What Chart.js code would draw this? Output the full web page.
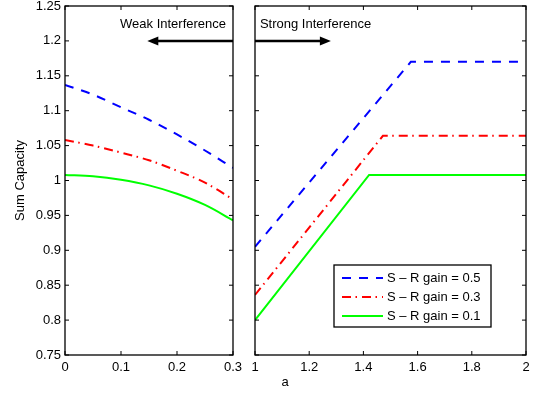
<!DOCTYPE html>
<html>
<head>
<meta charset="utf-8">
<script src="https://cdn.jsdelivr.net/npm/chart.js@4"></script>
<style>
  body { margin: 0; background: #fff; }
  #wrap { position: relative; width: 534px; height: 394px; }
  canvas { position: absolute; top: 0; }
  #weak { left: 0; }
  #strong { left: 244px; }
</style>
</head>
<body>
<div id="wrap">
  <canvas id="weak" width="244" height="394"></canvas>
  <canvas id="strong" width="290" height="394"></canvas>
</div>
<script>
// weak interference part (a from 0 to 0.3)
const weakA = [0, 0.05, 0.1, 0.15, 0.2, 0.25, 0.3];
const weakGain05 = [1.137, 1.123, 1.105, 1.087, 1.066, 1.043, 1.018];
const weakGain03 = [1.058, 1.050, 1.040, 1.029, 1.014, 0.997, 0.973];
const weakGain01 = [1.008, 1.006, 1.001, 0.993, 0.981, 0.965, 0.943];

// strong interference part (a from 1 to 2)
const strongA05 = [1, 1.575, 2];
const strongGain05 = [0.905, 1.170, 1.170];
const strongA03 = [1, 1.472, 2];
const strongGain03 = [0.836, 1.064, 1.064];
const strongA01 = [1, 1.421, 2];
const strongGain01 = [0.800, 1.008, 1.008];

const seriesLabels = ['S \u2013 R gain = 0.5', 'S \u2013 R gain = 0.3', 'S \u2013 R gain = 0.1'];

Chart.defaults.font.family = '"Liberation Sans", Arial, sans-serif';
Chart.defaults.font.size = 13;
Chart.defaults.color = '#000';

const styles = [
  { borderColor: '#0000ff', borderDash: [9, 8] },
  { borderColor: '#ff0000', borderDash: [9, 4.5, 1.5, 5] },
  { borderColor: '#00ff00', borderDash: [] }
];

function points(xs, ys) {
  return xs.map((x, i) => ({ x: x, y: ys[i] }));
}

function makeSets(list, smooth) {
  return list.map((d, i) => ({
    label: seriesLabels[i],
    data: d,
    borderColor: styles[i].borderColor,
    borderDash: styles[i].borderDash,
    borderWidth: 2,
    pointRadius: 0,
    fill: false,
    tension: 0,
    cubicInterpolationMode: smooth ? 'monotone' : 'default'
  }));
}

// matlab style box with inward ticks
const boxTicks = {
  id: 'boxTicks',
  afterDatasetsDraw(chart) {
    const ctx = chart.ctx;
    const a = chart.chartArea;
    const x = chart.scales.x, y = chart.scales.y;
    ctx.save();
    ctx.strokeStyle = '#000';
    ctx.lineWidth = 1;
    ctx.beginPath();
    x.ticks.forEach(t => {
      const p = x.getPixelForValue(t.value);
      ctx.moveTo(p, a.bottom); ctx.lineTo(p, a.bottom - 4);
      ctx.moveTo(p, a.top); ctx.lineTo(p, a.top + 4);
    });
    y.ticks.forEach(t => {
      const p = y.getPixelForValue(t.value);
      ctx.moveTo(a.left, p); ctx.lineTo(a.left + 4, p);
      ctx.moveTo(a.right, p); ctx.lineTo(a.right - 4, p);
    });
    ctx.stroke();
    ctx.lineWidth = 1.3;
    ctx.strokeRect(a.left, a.top, a.right - a.left, a.bottom - a.top);
    ctx.restore();
  }
};

// text + arrow note, given in data units
const arrowNote = {
  id: 'arrowNote',
  afterDatasetsDraw(chart, args, opts) {
    if (!opts.text) return;
    const ctx = chart.ctx;
    const x = chart.scales.x, y = chart.scales.y;
    ctx.save();
    ctx.fillStyle = '#000';
    ctx.strokeStyle = '#000';
    ctx.font = '13px "Liberation Sans", Arial, sans-serif';
    ctx.textAlign = opts.align;
    ctx.textBaseline = 'middle';
    ctx.fillText(opts.text, x.getPixelForValue(opts.textX), y.getPixelForValue(opts.textY));
    const x0 = x.getPixelForValue(opts.from), x1 = x.getPixelForValue(opts.to);
    const py = y.getPixelForValue(opts.y);
    const dir = x1 > x0 ? 1 : -1;
    ctx.lineWidth = 2.5;
    ctx.beginPath();
    ctx.moveTo(x0, py);
    ctx.lineTo(x1 - dir * 9, py);
    ctx.stroke();
    ctx.beginPath();
    ctx.moveTo(x1, py);
    ctx.lineTo(x1 - dir * 11, py - 4.5);
    ctx.lineTo(x1 - dir * 11, py + 4.5);
    ctx.closePath();
    ctx.fill();
    ctx.restore();
  }
};

// legend box drawn inside the plot area
const boxLegend = {
  id: 'boxLegend',
  afterDatasetsDraw(chart) {
    const ctx = chart.ctx;
    const a = chart.chartArea;
    const w = 157, h = 62;
    const left = a.right - 35 - w, top = a.bottom - 28 - h;
    ctx.save();
    ctx.fillStyle = '#fff';
    ctx.fillRect(left, top, w, h);
    ctx.strokeStyle = '#000';
    ctx.lineWidth = 1.3;
    ctx.strokeRect(left, top, w, h);
    ctx.font = '13px "Liberation Sans", Arial, sans-serif';
    ctx.textBaseline = 'middle';
    ctx.textAlign = 'left';
    chart.data.datasets.forEach((ds, i) => {
      const ry = top + 13 + i * 19;
      ctx.strokeStyle = ds.borderColor;
      ctx.lineWidth = 2;
      ctx.setLineDash(ds.borderDash);
      ctx.beginPath();
      ctx.moveTo(left + 8, ry);
      ctx.lineTo(left + 49, ry);
      ctx.stroke();
      ctx.setLineDash([]);
      ctx.fillStyle = '#000';
      ctx.fillText(ds.label, left + 53, ry);
    });
    ctx.restore();
  }
};

// x label "a" under the axes
const xName = {
  id: 'xName',
  afterDraw(chart) {
    const ctx = chart.ctx;
    ctx.save();
    ctx.fillStyle = '#000';
    ctx.font = '13px "Liberation Sans", Arial, sans-serif';
    ctx.textAlign = 'center';
    ctx.textBaseline = 'middle';
    ctx.fillText('a', chart.chartArea.left + 30, 382);
    ctx.restore();
  }
};

const fmt = d => v => String(+v.toFixed(d));

// fixed axis sizes, no extra room for overhanging labels
const fitX = s => { s.height = 39; s.paddingLeft = 0; s.paddingRight = 0; };
const fitY = w => s => { s.width = w; s.paddingTop = 0; s.paddingBottom = 0; };

new Chart(document.getElementById('weak'), {
  type: 'line',
  data: {
    datasets: makeSets([
      points(weakA, weakGain05),
      points(weakA, weakGain03),
      points(weakA, weakGain01)
    ], true)
  },
  options: {
    responsive: false,
    animation: false,
    layout: { padding: { top: 6, right: 11, left: 0, bottom: 0 } },
    plugins: {
      legend: { display: false },
      tooltip: { enabled: false },
      arrowNote: { text: 'Weak Interference', align: 'right', textX: 0.2875, textY: 1.224, from: 0.3, to: 0.147, y: 1.2 }
    },
    scales: {
      x: {
        type: 'linear', min: 0, max: 0.3,
        ticks: { stepSize: 0.1, callback: fmt(1), padding: 5, maxRotation: 0 },
        grid: { display: false, drawTicks: false, tickLength: 0 },
        border: { display: false },
        afterFit: fitX
      },
      y: {
        min: 0.75, max: 1.25,
        ticks: { stepSize: 0.05, callback: fmt(2), padding: 4 },
        grid: { display: false, drawTicks: false, tickLength: 0 },
        border: { display: false },
        title: { display: true, text: 'Sum Capacity', padding: { top: 13, bottom: 0 } },
        afterFit: fitY(65)
      }
    }
  },
  plugins: [boxTicks, arrowNote]
});

new Chart(document.getElementById('strong'), {
  type: 'line',
  data: {
    datasets: makeSets([
      points(strongA05, strongGain05),
      points(strongA03, strongGain03),
      points(strongA01, strongGain01)
    ], false)
  },
  options: {
    responsive: false,
    animation: false,
    layout: { padding: { top: 6, right: 8, left: 11, bottom: 0 } },
    plugins: {
      legend: { display: false },
      tooltip: { enabled: false },
      arrowNote: { text: 'Strong Interference', align: 'left', textX: 1.018, textY: 1.224, from: 1, to: 1.28, y: 1.2 }
    },
    scales: {
      x: {
        type: 'linear', min: 1, max: 2,
        ticks: { stepSize: 0.2, callback: fmt(1), padding: 5, maxRotation: 0 },
        grid: { display: false, drawTicks: false, tickLength: 0 },
        border: { display: false },
        afterFit: fitX
      },
      y: {
        min: 0.75, max: 1.25,
        ticks: { stepSize: 0.05, display: false },
        grid: { display: false, drawTicks: false, tickLength: 0 },
        border: { display: false },
        afterFit: fitY(0)
      }
    }
  },
  plugins: [boxTicks, arrowNote, boxLegend, xName]
});
</script>
</body>
</html>
